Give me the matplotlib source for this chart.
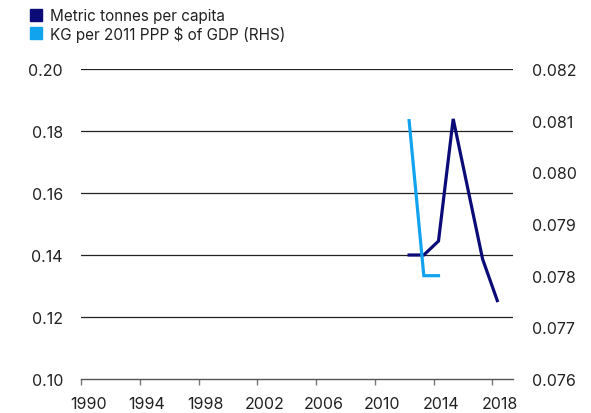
import numpy as np
import matplotlib
matplotlib.use("Agg")
import matplotlib.pyplot as plt
from matplotlib.patches import Rectangle

plt.rcParams['font.family'] = ['Inter', 'DejaVu Sans']

# data
years_pc = [2012, 2013, 2014, 2015, 2016, 2017, 2018]
tonnes_per_capita = [0.140, 0.140, 0.1445, 0.1839, 0.1613, 0.1387, 0.1253]

years_gdp = [2012, 2013, 2014]
kg_per_ppp_gdp = [0.0810, 0.0780, 0.0780]

x_ticks = list(range(1990, 2019, 4))
left_ticks = [0.10, 0.12, 0.14, 0.16, 0.18, 0.20]
right_ticks = [0.076, 0.077, 0.078, 0.079, 0.080, 0.081, 0.082]

navy = "#0b0b78"
light = "#12a3ef"
offset = 0.33  # points sit a bit right of the year tick

W, H = 591, 414
fig = plt.figure(figsize=(W / 100, H / 100), dpi=100)
ax = fig.add_axes([81 / W, 1 - 380 / H, (513 - 81) / W, (380 - 70) / H])
ax2 = ax.twinx()

ax.plot(np.array(years_pc) + offset, tonnes_per_capita, color=navy, lw=2.3,
        solid_joinstyle='miter', zorder=3)
ax2.plot(np.array(years_gdp) + offset, kg_per_ppp_gdp, color=light, lw=2.3,
         solid_joinstyle='miter', zorder=3)

ax.set_xlim(1990, 2019.4)
ax.set_ylim(0.10, 0.20)
ax2.set_ylim(0.076, 0.082)

ax.set_yticks(left_ticks)
ax.set_yticklabels([f"{v:.2f}" for v in left_ticks])
ax2.set_yticks(right_ticks)
ax2.set_yticklabels([f"{v:.3f}" for v in right_ticks])

# tick marks on the year boundary, labels centred in the year
ax.set_xticks(x_ticks)
ax.set_xticklabels([])
ax.set_xticks([y + 0.5 for y in x_ticks], minor=True)
ax.set_xticklabels([str(y) for y in x_ticks], minor=True)

for v in left_ticks[1:]:
    ax.axhline(v, color="#222222", lw=0.9, zorder=1)

for a in (ax, ax2):
    for s in a.spines.values():
        s.set_visible(False)
ax.spines['bottom'].set_visible(True)
ax.spines['bottom'].set_color("#555555")
ax.spines['bottom'].set_linewidth(1.0)

ax.tick_params(axis='y', length=0, pad=13, labelsize=11.5, labelcolor="#222222")
ax2.tick_params(axis='y', length=0, pad=14, labelsize=11.5, labelcolor="#222222")
ax.tick_params(axis='x', which='major', length=4, width=1, color="#777777")
ax.tick_params(axis='x', which='minor', length=0, pad=12,
               labelsize=11.5, labelcolor="#222222")

# legend
fig.patches.append(Rectangle((30 / W, 1 - 22 / H), 12 / W, 12 / H,
                             transform=fig.transFigure, color=navy))
fig.patches.append(Rectangle((30 / W, 1 - 40 / H), 12 / W, 12 / H,
                             transform=fig.transFigure, color=light))
fig.text(50 / W, 1 - 16.5 / H, "Metric tonnes per capita", fontsize=11,
         va='center', color="#222222")
fig.text(50 / W, 1 - 34.5 / H, "KG per 2011 PPP $ of GDP (RHS)", fontsize=11,
         va='center', color="#222222")

fig.savefig("out.png", dpi=100)
